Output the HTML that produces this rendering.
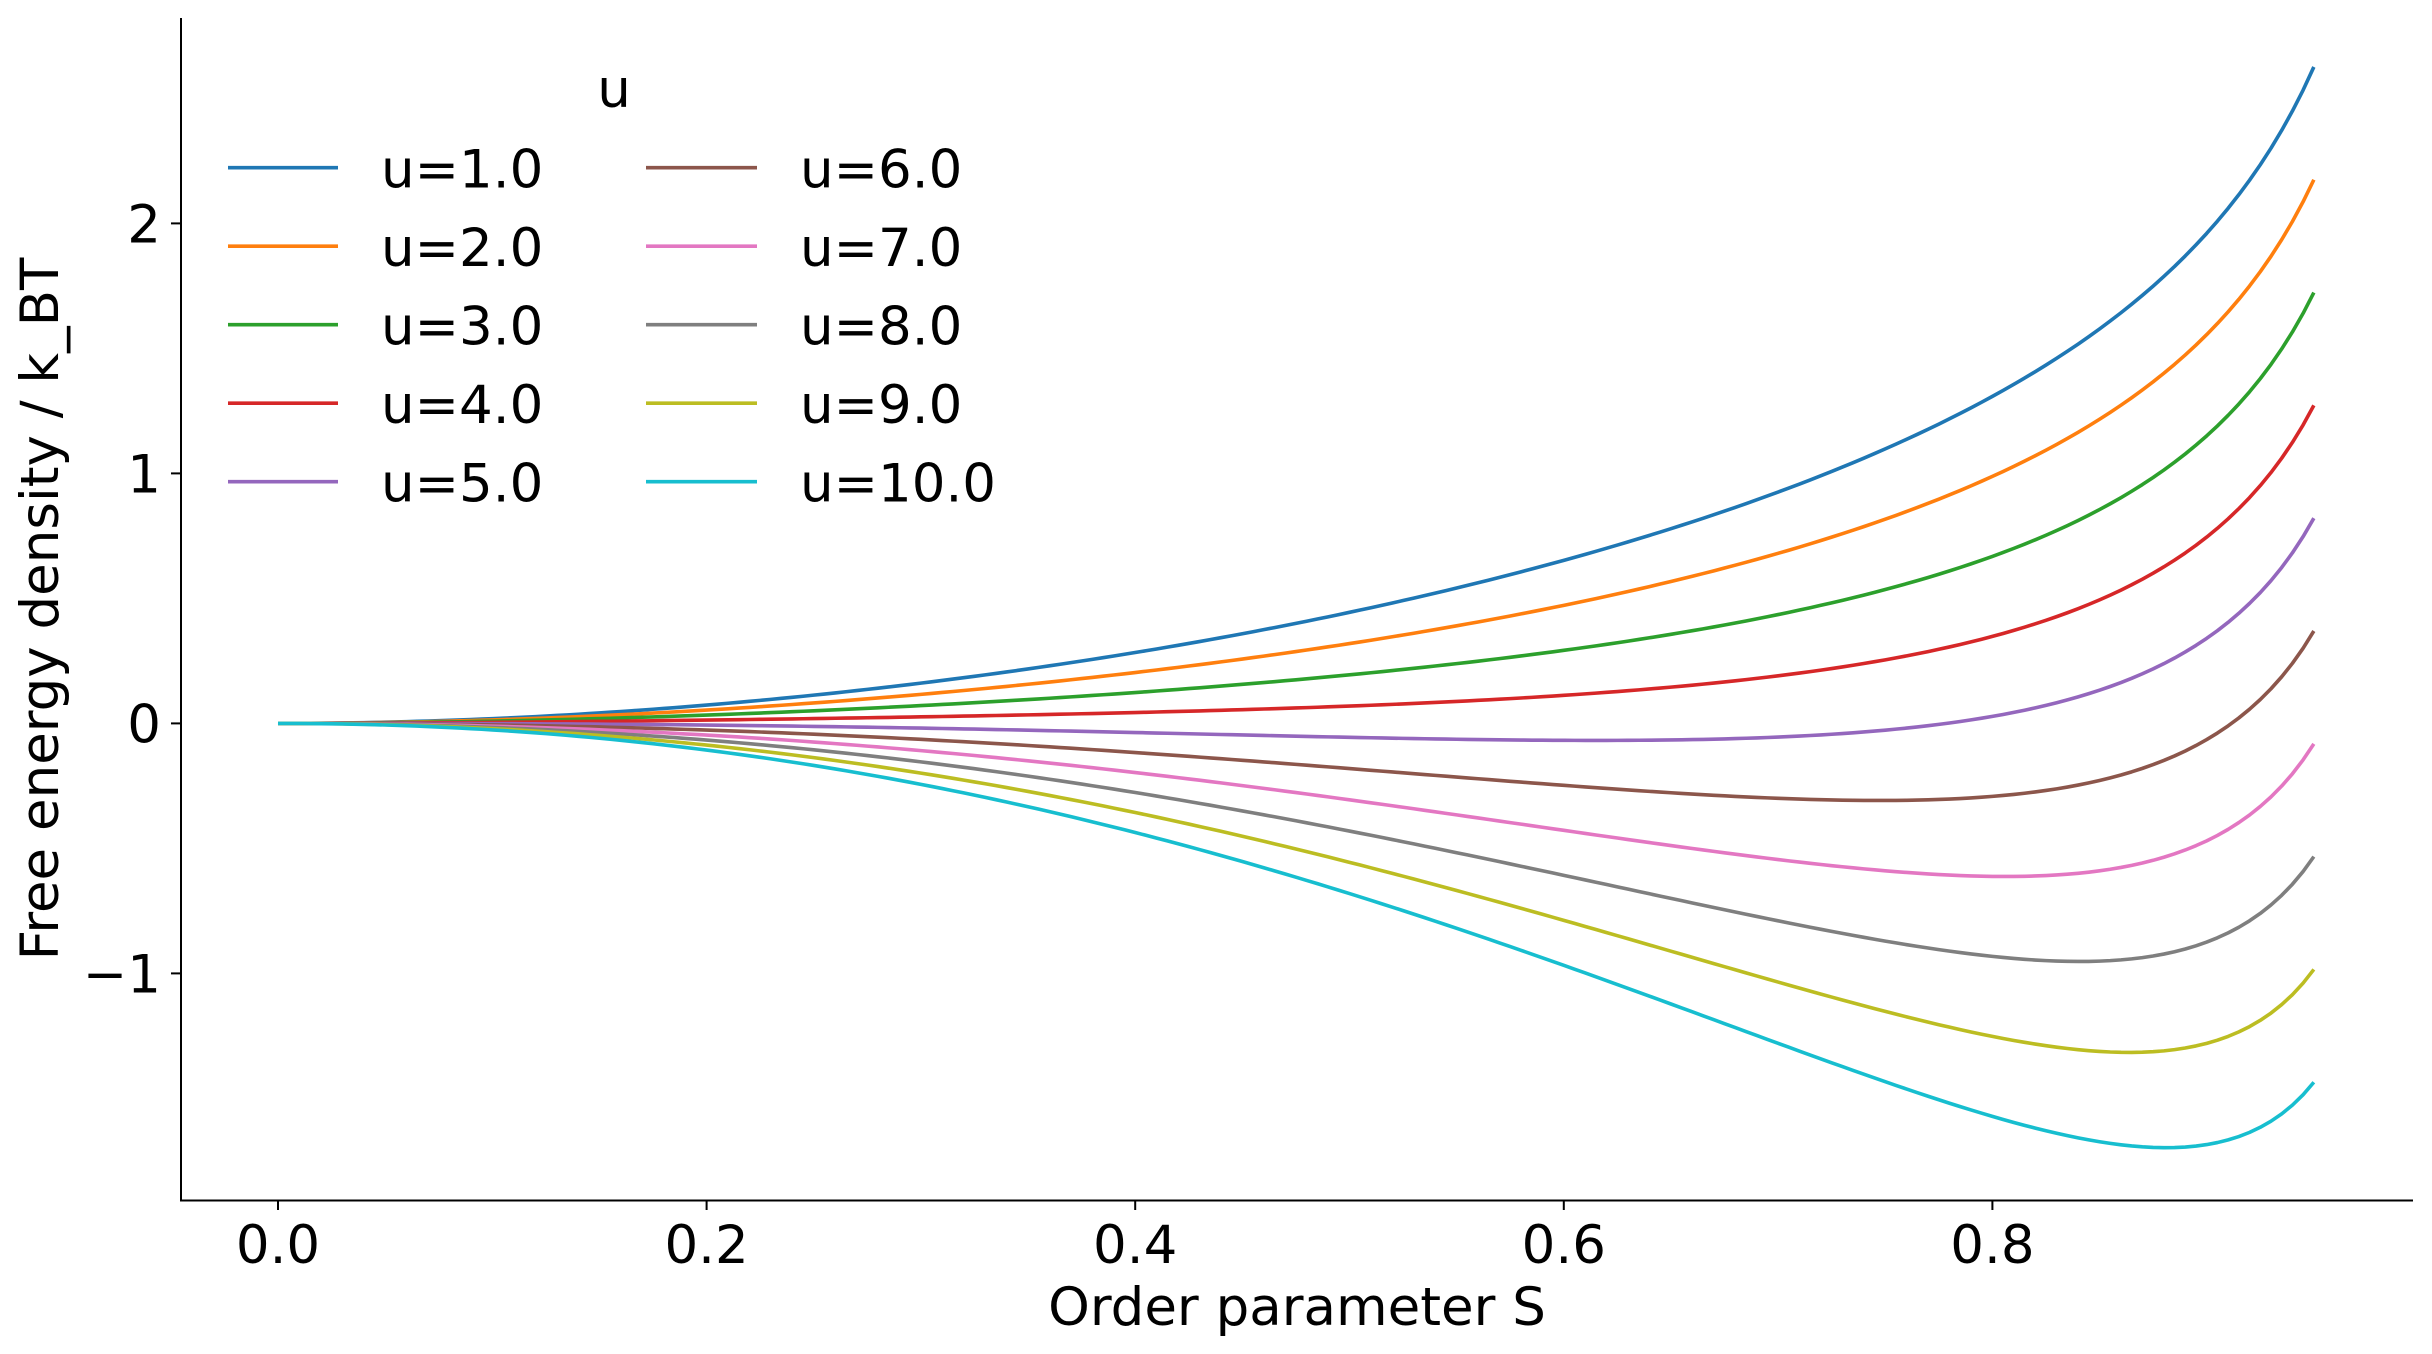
<!DOCTYPE html>
<html><head><meta charset="utf-8"><style>
html,body{margin:0;padding:0;background:#fff;}
svg{display:block;}
text{font-family:"DejaVu Sans","Liberation Sans",sans-serif;font-size:53px;fill:#000;}
</style></head><body>
<svg id="c" width="2432" height="1354" viewBox="0 0 2432 1354" xmlns="http://www.w3.org/2000/svg">
<g id="curves" fill="none" stroke-width="3.6" stroke-linejoin="round" stroke-linecap="butt"></g>
<g stroke="#000" stroke-width="2" fill="none">
<line x1="181" y1="18" x2="181" y2="1201"/>
<line x1="180" y1="1200.5" x2="2413" y2="1200.5"/>
<line x1="278" y1="1200" x2="278" y2="1210"/>
<line x1="706.6" y1="1200" x2="706.6" y2="1210"/>
<line x1="1135.2" y1="1200" x2="1135.2" y2="1210"/>
<line x1="1563.8" y1="1200" x2="1563.8" y2="1210"/>
<line x1="1992.4" y1="1200" x2="1992.4" y2="1210"/>
<line x1="171" y1="223.4" x2="181" y2="223.4"/>
<line x1="171" y1="473.4" x2="181" y2="473.4"/>
<line x1="171" y1="723.4" x2="181" y2="723.4"/>
<line x1="171" y1="973.4" x2="181" y2="973.4"/>
</g>
<g text-anchor="middle">
<text x="278" y="1263">0.0</text>
<text x="706.6" y="1263">0.2</text>
<text x="1135.2" y="1263">0.4</text>
<text x="1563.8" y="1263">0.6</text>
<text x="1992.4" y="1263">0.8</text>
<text x="1297" y="1325">Order parameter S</text>
</g>
<g text-anchor="end">
<text x="161" y="742.5" dy="0">0</text>
<text x="161" y="242.5">2</text>
<text x="161" y="492.5">1</text>
<text x="161" y="992.5">−1</text>
</g>
<text transform="translate(58,609) rotate(-90)" text-anchor="middle">Free energy density / k_BT</text>
<text x="614" y="107" text-anchor="middle">u</text>
<g id="legend"></g>
</svg>
<script>
(function(){
var cols=["#1f77b4","#ff7f0e","#2ca02c","#d62728","#9467bd","#8c564b","#e377c2","#7f7f7f","#bcbd22","#17becf"];
var N=2000;
function stats(l){
  var sum=0,sp=0,h=1/N, m=Math.max(l,-l*0.5);
  for(var i=0;i<=N;i++){var x=i*h,p=(3*x*x-1)/2;var w=(i==0||i==N)?1:(i%2?4:2);var e=Math.exp(l*p-m);sum+=w*e;sp+=w*e*p;}
  sum*=h/3;sp*=h/3;return [sp/sum, Math.log(sum)+m];
}
function A(S){
  if(S<1e-9) return 0;
  var lo=0,hi=400;
  for(var k=0;k<60;k++){var mid=(lo+hi)/2;if(stats(mid)[0]<S)lo=mid;else hi=mid;}
  var st=stats((lo+hi)/2);return (lo+hi)/2*S-st[1];
}
var Ss=[],As=[];
for(var i=0;i<=190;i++){var S=0.95*i/190;Ss.push(S);As.push(A(S));}
var g=document.getElementById('curves'),ns="http://www.w3.org/2000/svg";
for(var u=1;u<=10;u++){
  var d="";
  for(var i=0;i<Ss.length;i++){
    var f=As[i]-u*Ss[i]*Ss[i]/2;
    var x=278+Ss[i]*2143,y=723.4-f*250;
    d+=(i?"L":"M")+x.toFixed(2)+" "+y.toFixed(2);
  }
  var p=document.createElementNS(ns,"path");p.setAttribute("d",d);p.setAttribute("stroke",cols[u-1]);g.appendChild(p);
}
var lg=document.getElementById('legend');
for(var k=0;k<10;k++){
  var c=k<5?0:1,r=k%5;var y=167.7+r*78.5;
  var x1=c?646:228,x2=c?757:338,tx=c?800:381;
  var l=document.createElementNS(ns,"line");
  l.setAttribute("x1",x1);l.setAttribute("x2",x2);l.setAttribute("y1",y);l.setAttribute("y2",y);
  l.setAttribute("stroke",cols[k]);l.setAttribute("stroke-width","3.6");lg.appendChild(l);
  var t=document.createElementNS(ns,"text");t.setAttribute("x",tx);t.setAttribute("y",y+20);
  t.textContent="u="+(k+1)+".0";lg.appendChild(t);
}
})();
</script>
</body></html>
